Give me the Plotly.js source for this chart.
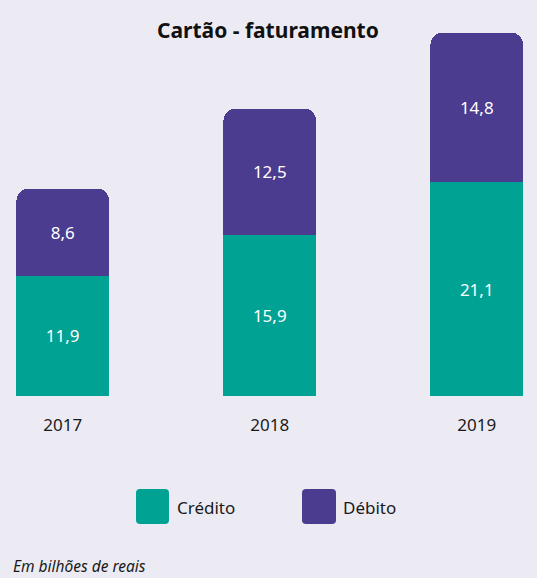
<!DOCTYPE html>
<html>
<head>
<meta charset="utf-8">
<script src="https://cdn.plot.ly/plotly-3.0.1.min.js"></script>
<style>
html,body{margin:0;padding:0;background:#ECEBF4;}
#chart{width:537px;height:578px;}
</style>
</head>
<body>
<div id="chart"></div>
<script>
var years = ['2017', '2018', '2019'];
var credito = [11.9, 15.9, 21.1];
var debito = [8.6, 12.5, 14.8];
var seriesNames = ['Crédito', 'Débito'];
var titleText = 'Cartão - faturamento';
var noteText = 'Em bilhões de reais';

var teal = '#00A294';
var purple = '#4B3C8F';
var bg = '#ECEBF4';
var font = 'Noto Sans, Open Sans, sans-serif';

var W = 537, H = 578, T = 20, B = 182;
var plotH = H - T - B;
function py(p) { return (H - B - p) / plotH; }
function px(p) { return p / W; }
function roundRect(x0, y0, x1, y1, r) {
  var X0 = px(x0), X1 = px(x1), Y0 = py(y0), Y1 = py(y1);
  var rx = r / W, ry = r / plotH;
  return 'M' + (X0 + rx) + ',' + Y0 + ' L' + (X1 - rx) + ',' + Y0 +
    ' Q' + X1 + ',' + Y0 + ' ' + X1 + ',' + (Y0 - ry) +
    ' L' + X1 + ',' + (Y1 + ry) + ' Q' + X1 + ',' + Y1 + ' ' + (X1 - rx) + ',' + Y1 +
    ' L' + (X0 + rx) + ',' + Y1 + ' Q' + X0 + ',' + Y1 + ' ' + X0 + ',' + (Y1 + ry) +
    ' L' + X0 + ',' + (Y0 - ry) + ' Q' + X0 + ',' + Y0 + ' ' + (X0 + rx) + ',' + Y0 + ' Z';
}

var common = {
  type: 'bar', x: years, width: 0.447,
  texttemplate: '%{y:.1f}', textposition: 'inside', insidetextanchor: 'middle',
  textfont: {family: font, size: 17, color: '#FFFFFF'},
  hoverinfo: 'skip', showlegend: false
};
var traces = [
  Object.assign({}, common, {name: seriesNames[0], y: credito, marker: {color: teal, line: {width: 0}}}),
  Object.assign({}, common, {name: seriesNames[1], y: debito, marker: {color: purple, line: {width: 0}}})
];

var layout = {
  width: W, height: H,
  margin: {l: 0, r: 0, t: T, b: B, pad: 0},
  paper_bgcolor: bg, plot_bgcolor: bg,
  barmode: 'stack', barcornerradius: 12,
  separators: ',.',
  font: {family: font, color: '#1a1a1a'},
  xaxis: {
    type: 'category', range: [-0.303, 2.291], fixedrange: true,
    showgrid: false, zeroline: false, showline: false, ticks: '',
    tickfont: {family: font, size: 17, color: '#1a1a1a'},
    ticklabelstandoff: 17
  },
  yaxis: {
    range: [0, 37.15], visible: false, fixedrange: true
  },
  shapes: [
    {type: 'path', xref: 'paper', yref: 'paper', path: roundRect(136, 489, 169, 524, 4), fillcolor: teal, line: {width: 0}},
    {type: 'path', xref: 'paper', yref: 'paper', path: roundRect(302, 489, 336, 524, 4), fillcolor: purple, line: {width: 0}}
  ],
  annotations: [
    {text: '<b>' + titleText + '</b>', xref: 'paper', yref: 'paper', x: px(268), y: py(30),
     xanchor: 'center', yanchor: 'middle', showarrow: false, font: {family: font, size: 21, color: '#111111'}},
    {text: seriesNames[0], xref: 'paper', yref: 'paper', x: px(175), y: py(507),
     xanchor: 'left', yanchor: 'middle', showarrow: false, font: {family: font, size: 17, color: '#1a1a1a'}},
    {text: seriesNames[1], xref: 'paper', yref: 'paper', x: px(341), y: py(507),
     xanchor: 'left', yanchor: 'middle', showarrow: false, font: {family: font, size: 17, color: '#1a1a1a'}},
    {text: '<i>' + noteText + '</i>', xref: 'paper', yref: 'paper', x: px(11), y: py(566),
     xanchor: 'left', yanchor: 'middle', showarrow: false, font: {family: font, size: 15.5, color: '#1a1a1a'}}
  ]
};

Plotly.newPlot('chart', traces, layout, {displayModeBar: false, staticPlot: true});
</script>
</body>
</html>
